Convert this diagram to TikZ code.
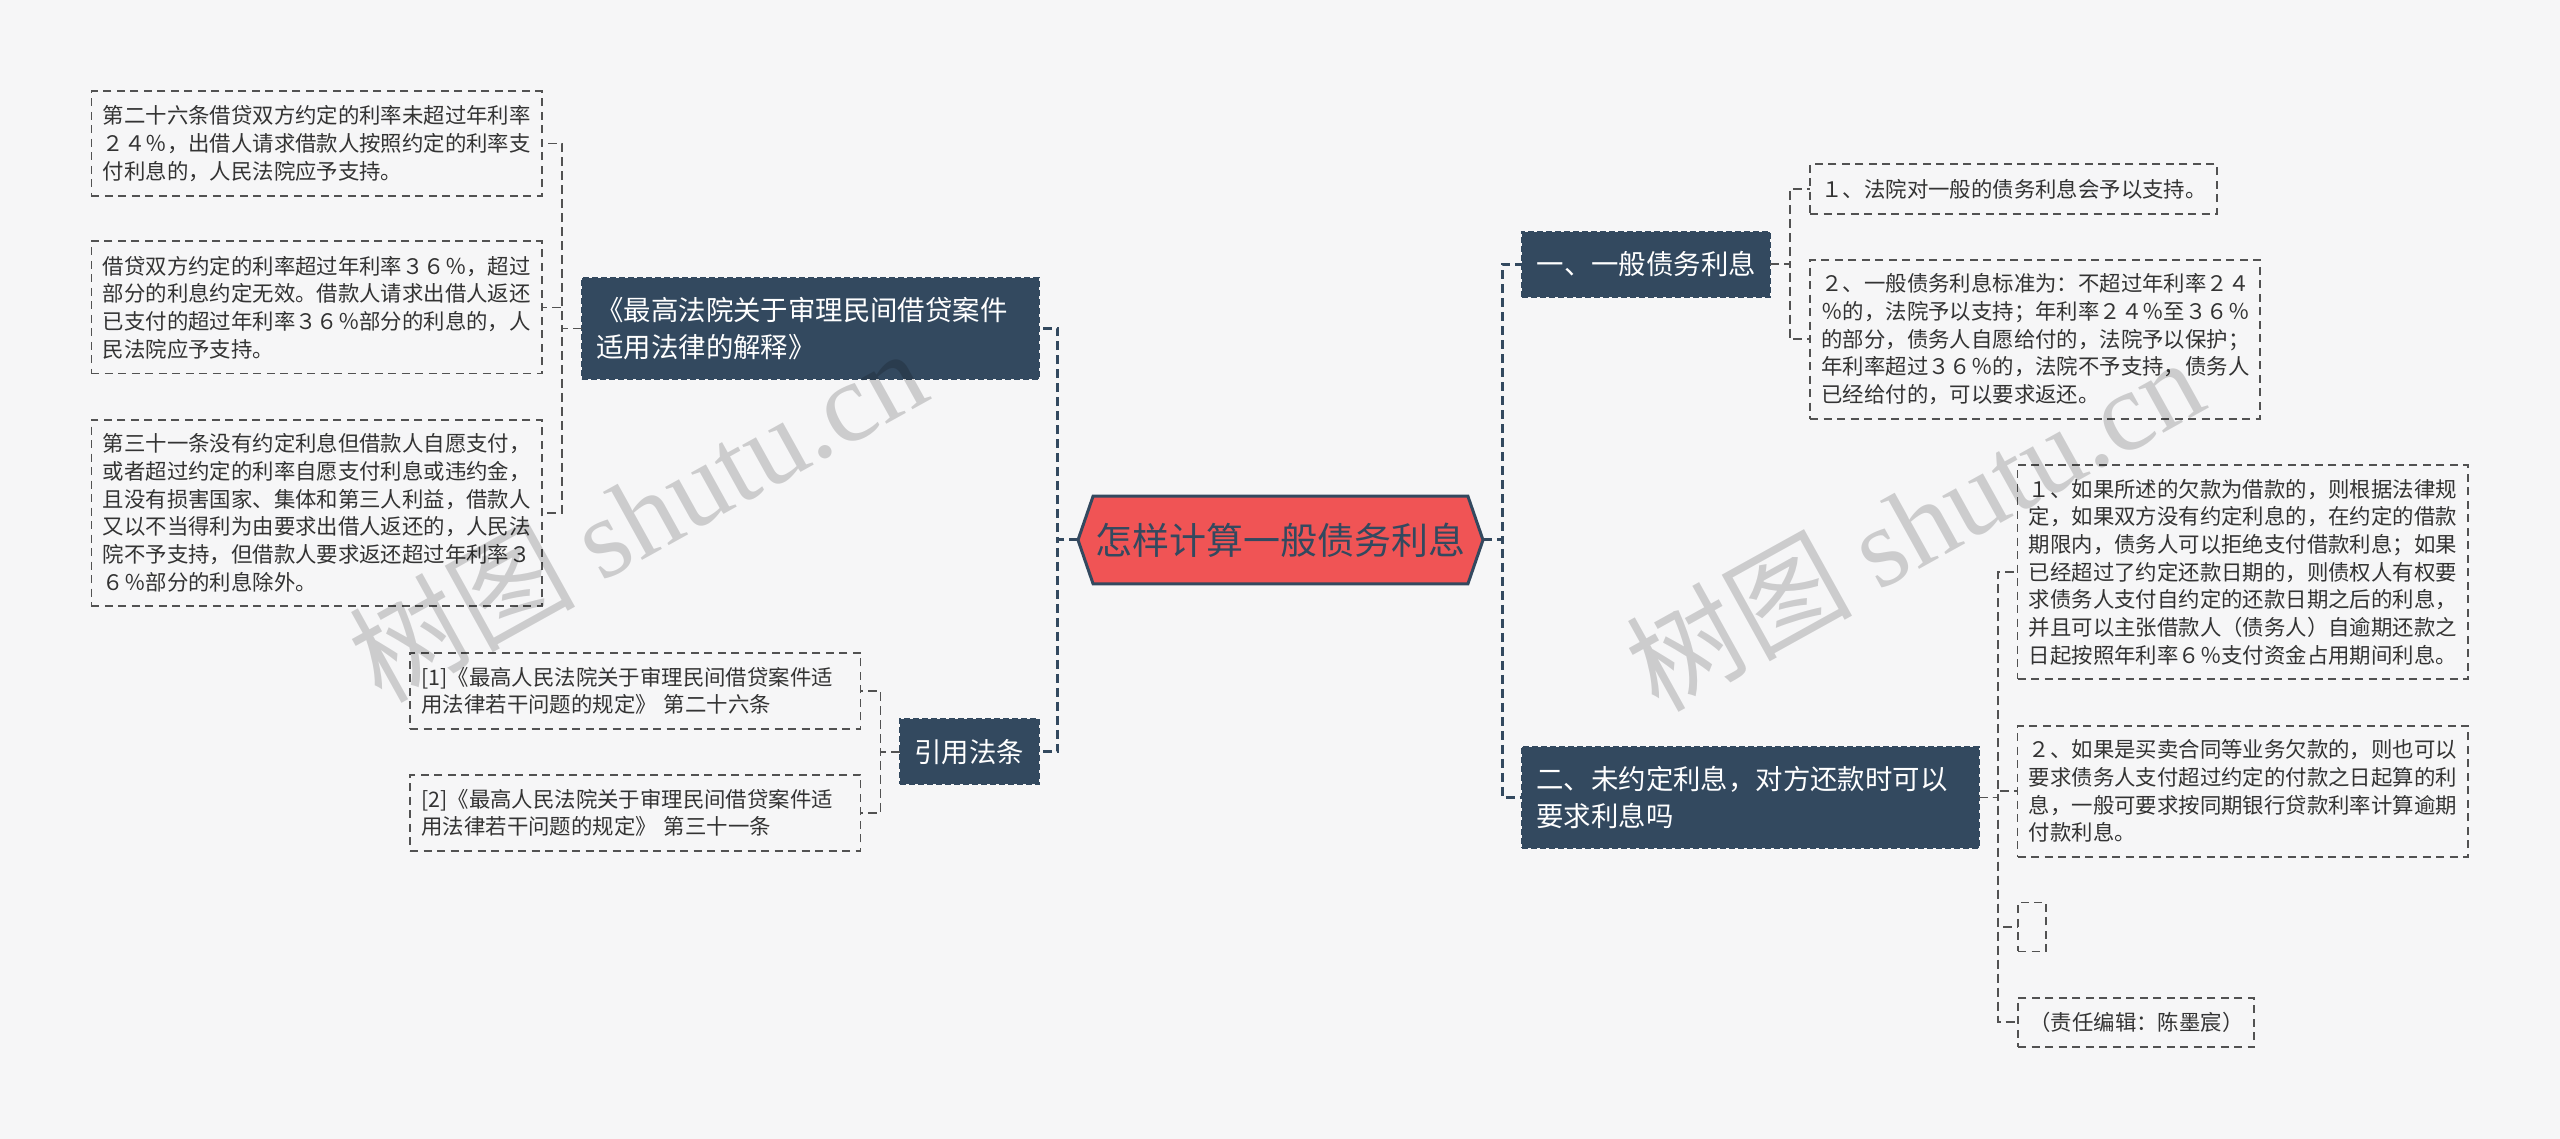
\documentclass[tikz,border=0pt]{standalone}
\usepackage{fontspec}
\setmainfont{Noto Sans CJK SC}
\newfontfamily\markfont{Liberation Serif}
\usetikzlibrary{shapes.symbols}

\definecolor{paper}{HTML}{F6F6F7}
\definecolor{navy}{HTML}{33495F}
\definecolor{tomato}{HTML}{F05455}
\definecolor{ink}{HTML}{333333}

\tikzstyle{rootnode} = [signal, signal to=west and east, signal pointer angle=142, draw=navy, line width=3pt, fill=tomato, text=navy, outer sep=0pt, inner sep=0pt, minimum width=405pt, minimum height=87.6pt, font=\fontsize{37}{44}\selectfont]
\tikzstyle{topic} = [rectangle, draw=navy, fill=navy, text=white, line width=2pt, dash pattern=on 6pt off 3pt, align=left, outer sep=0pt, inner xsep=15pt, inner ysep=0pt, font=\fontsize{27.4}{37.5}\selectfont]
\tikzstyle{leaf} = [rectangle, draw=ink!85, text=ink, line width=1.8pt, dash pattern=on 8pt off 5.5pt, align=left, outer sep=0pt, inner xsep=11.4pt, inner ysep=0pt, font=\fontsize{21.4}{27.7}\selectfont]
\tikzstyle{trunk} = [draw=navy, line width=3pt, dash pattern=on 9pt off 5pt]
\tikzstyle{link} = [draw=ink!85, line width=1.8pt, dash pattern=on 9pt off 5pt]
\tikzstyle{watermark} = [text=black, opacity=0.17, rotate=29, inner sep=0pt, font=\fontsize{113}{113}\selectfont]

\begin{document}
\begin{tikzpicture}[x=1pt, y=1pt, node distance=100pt]
    \useasboundingbox (0,0) rectangle (2560,1139);
    \fill[paper] (0,0) rectangle (2560,1139);

    \node[rootnode] (root) at (1280.5,599) {怎样计算一般债务利息};

    % topics
    \node[topic, above of=root, node distance=211.5pt, xshift=-470.5pt, text width=427pt, minimum height=101pt] (lawa) {《最高法院关于审理民间借贷案件\\适用法律的解释》};
    \node[topic, below of=root, node distance=211.8pt, xshift=-311.5pt, text width=109pt, minimum height=65pt] (lawb) {引用法条};
    \node[topic, above of=root, node distance=275.7pt, xshift=365.5pt, text width=218.5pt, minimum height=64.7pt] (general) {一、一般债务利息};
    \node[topic, below of=root, node distance=257.5pt, xshift=469.5pt, text width=427pt, minimum height=101.6pt] (unagreed) {二、未约定利息，对方还款时可以\\要求利息吗};

    % leaves of the left side
    \node[leaf, above of=lawa, node distance=185pt, xshift=-493.3pt, text width=427.8pt, minimum height=104.3pt] (lawa1) {第二十六条借贷双方约定的利率未超过年利率\\２４％，出借人请求借款人按照约定的利率支\\付利息的，人民法院应予支持。};
    \node[leaf, above of=lawa, node distance=21pt, xshift=-493.3pt, text width=427.8pt, minimum height=132.2pt] (lawa2) {借贷双方约定的利率超过年利率３６％，超过\\部分的利息约定无效。借款人请求出借人返还\\已支付的超过年利率３６％部分的利息的，人\\民法院应予支持。};
    \node[leaf, below of=lawa, node distance=184.4pt, xshift=-493.3pt, text width=427.8pt, minimum height=185.7pt] (lawa3) {第三十一条没有约定利息但借款人自愿支付，\\或者超过约定的利率自愿支付利息或违约金，\\且没有损害国家、集体和第三人利益，借款人\\又以不当得利为由要求出借人返还的，人民法\\院不予支持，但借款人要求返还超过年利率３\\６％部分的利息除外。};
    \node[leaf, above of=lawb, node distance=61pt, xshift=-333.75pt, text width=427.7pt, minimum height=76.3pt] (lawb1) {[1]《最高人民法院关于审理民间借贷案件适\\用法律若干问题的规定》 第二十六条};
    \node[leaf, below of=lawb, node distance=61.2pt, xshift=-333.75pt, text width=427.7pt, minimum height=76pt] (lawb2) {[2]《最高人民法院关于审理民间借贷案件适\\用法律若干问题的规定》 第三十一条};

    % leaves of the right side
    \node[leaf, above of=general, node distance=75.3pt, xshift=367.5pt, text width=384.2pt, minimum height=49.4pt] (general1) {１、法院对一般的债务利息会予以支持。};
    \node[leaf, below of=general, node distance=75pt, xshift=389pt, text width=427.2pt, minimum height=158.7pt] (general2) {２、一般债务利息标准为：不超过年利率２４\\％的，法院予以支持；年利率２４％至３６％\\的部分，债务人自愿给付的，法院予以保护；\\年利率超过３６％的，法院不予支持，债务人\\已经给付的，可以要求返还。};
    \node[leaf, above of=unagreed, node distance=225.5pt, xshift=492.75pt, text width=427.7pt, minimum height=214.3pt] (unagreed1) {１、如果所述的欠款为借款的，则根据法律规\\定，如果双方没有约定利息的，在约定的借款\\期限内，债务人可以拒绝支付借款利息；如果\\已经超过了约定还款日期的，则债权人有权要\\求债务人支付自约定的还款日期之后的利息，\\并且可以主张借款人（债务人）自逾期还款之\\日起按照年利率６％支付资金占用期间利息。};
    \node[leaf, above of=unagreed, node distance=6.3pt, xshift=492.75pt, text width=427.7pt, minimum height=131pt] (unagreed2) {２、如果是买卖合同等业务欠款的，则也可以\\要求债务人支付超过约定的付款之日起算的利\\息，一般可要求按同期银行贷款利率计算逾期\\付款利息。};
    \node[leaf, below of=unagreed, node distance=129.5pt, xshift=282pt, text width=5.2pt, minimum height=49pt] (unagreed3) {};
    \node[leaf, below of=unagreed, node distance=224.9pt, xshift=386pt, text width=213.2pt, minimum height=49.3pt] (unagreed4) {（责任编辑：陈墨宸）};

    % spines
    \coordinate[left of=root, node distance=222.6pt] (trunkl);
    \coordinate[right of=root, node distance=221.5pt] (trunkr);
    \coordinate[left of=lawa, node distance=248.2pt] (spinea);
    \coordinate[left of=lawb, node distance=88.5pt] (spineb);
    \coordinate[right of=general, node distance=144pt] (spinec);
    \coordinate[right of=unagreed, node distance=248.3pt] (spined);

    % lines
    \draw [trunk] (root.west) -- (trunkl) |- (lawa.east);
    \draw [trunk] (root.west) -- (trunkl) |- (lawb.east);
    \draw [trunk] (root.east) -- (trunkr) |- (general.west);
    \draw [trunk] (root.east) -- (trunkr) |- (unagreed.west);

    \draw [link] (lawa.west) -- (spinea) |- (lawa1.east);
    \draw [link] (lawa.west) -- (spinea) |- (lawa2.east);
    \draw [link] (lawa.west) -- (spinea) |- (lawa3.east);
    \draw [link] (lawb.west) -- (spineb) |- (lawb1.east);
    \draw [link] (lawb.west) -- (spineb) |- (lawb2.east);
    \draw [link] (general.east) -- (spinec) |- (general1.west);
    \draw [link] (general.east) -- (spinec) |- (general2.west);
    \draw [link] (unagreed.east) -- (spined) |- (unagreed1.west);
    \draw [link] (unagreed.east) -- (spined) |- (unagreed2.west);
    \draw [link] (unagreed.east) -- (spined) |- (unagreed3.west);
    \draw [link] (unagreed.east) -- (spined) |- (unagreed4.west);

    % watermarks
    \node[watermark] (marka) at (637,625) {树图 {\markfont shutu.cn}};
    \node[watermark] (markb) at (1914,616) {树图 {\markfont shutu.cn}};
\end{tikzpicture}
\end{document}
